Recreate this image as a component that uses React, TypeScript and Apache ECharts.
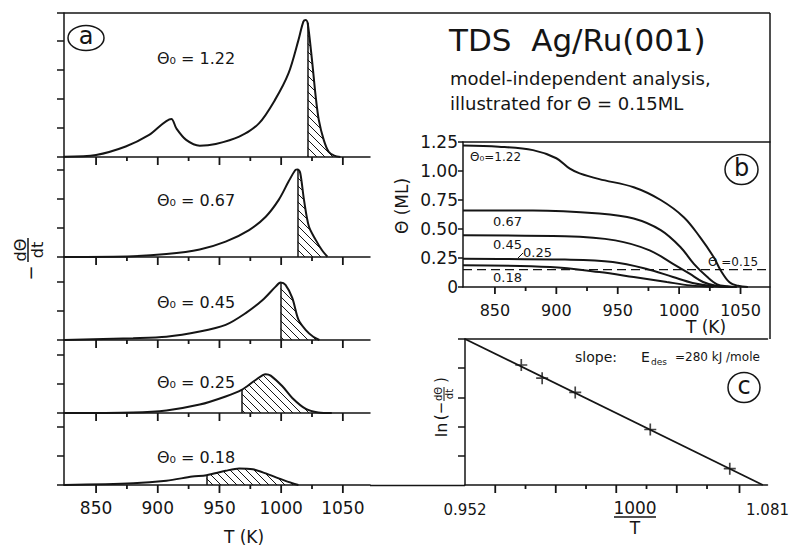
import React, { useEffect, useRef } from "react";
import * as echarts from "echarts";

// ---------- panel (a): TDS spectra, -dΘ/dt (in y-tick units) vs T (K) ----------
const a1T = [824, 850, 874, 893, 911, 915, 923, 934, 947, 966, 982, 995, 1006, 1014, 1018, 1020, 1021.5, 1025, 1028, 1030.5, 1034.5, 1038.5, 1043, 1048];
const a1Y = [0.01, 0.07, 0.36, 0.76, 1.31, 0.99, 0.59, 0.39, 0.45, 0.7, 1.16, 1.97, 2.89, 4.03, 4.67, 4.72, 4.62, 3.34, 2.08, 1.28, 0.59, 0.18, 0.05, 0];
const a2T = [824, 880, 907, 934, 955, 974, 987.5, 998, 1006, 1011.5, 1013.5, 1015.5, 1018.5, 1022.5, 1028, 1033, 1037.5];
const a2Y = [0, 0.03, 0.1, 0.26, 0.53, 0.93, 1.39, 1.97, 2.6, 3.0, 3.02, 2.89, 1.97, 1.05, 0.59, 0.24, 0.01];
const a3T = [824, 880, 907, 934, 955, 971, 985, 995.5, 999.5, 1003.5, 1009, 1014, 1020, 1026, 1031];
const a3Y = [0, 0.06, 0.11, 0.29, 0.52, 0.92, 1.38, 1.84, 1.98, 1.9, 1.45, 0.7, 0.34, 0.11, 0];
const a4T = [824, 880, 907, 934, 955, 968, 979, 987.5, 991.5, 1001, 1009, 1020, 1030, 1041];
const a4Y = [0, 0.02, 0.09, 0.29, 0.57, 0.8, 1.13, 1.34, 1.29, 0.92, 0.52, 0.14, 0.02, 0];
const a5T = [824, 880, 907, 928, 939.5, 955, 966, 977, 987.5, 998, 1009, 1014];
const a5Y = [0, 0.06, 0.15, 0.29, 0.34, 0.49, 0.57, 0.54, 0.4, 0.23, 0.06, 0];
const aHatchStart = [1021.5, 1013.5, 999.5, 968, 939.5];
const aCoverage = ["1.22", "0.67", "0.45", "0.25", "0.18"];
const aTickMajor = [850, 900, 950, 1000, 1050];
const aTickMinor = [875, 925, 975, 1025];

// ---------- panel (b): coverage Θ (ML) vs T (K) ----------
const bT122 = [824, 853, 881, 900, 911, 919, 935, 963, 985, 1004, 1017, 1028, 1034, 1041, 1048, 1056];
const bY122 = [1.22, 1.21, 1.18, 1.11, 1.02, 0.98, 0.93, 0.86, 0.75, 0.6, 0.43, 0.26, 0.14, 0.04, 0.01, 0];
const bT067 = [824, 881, 935, 963, 985, 1001, 1012, 1023, 1031, 1039, 1047];
const bY067 = [0.66, 0.66, 0.633, 0.59, 0.49, 0.345, 0.2, 0.086, 0.023, 0.006, 0];
const bT045 = [824, 907, 948, 976, 995, 1008.5, 1019.5, 1030, 1044];
const bY045 = [0.446, 0.437, 0.402, 0.316, 0.2, 0.115, 0.043, 0.011, 0];
const bT025 = [824, 907, 946, 973, 995, 1011, 1028, 1041];
const bY025 = [0.244, 0.236, 0.216, 0.158, 0.086, 0.035, 0.006, 0];
const bT018 = [824, 895, 935, 963, 990, 1009, 1028];
const bY018 = [0.187, 0.172, 0.129, 0.086, 0.043, 0.014, 0];
const bDashTheta = 0.15;
const bTickMajor = [850, 900, 950, 1000, 1050];
const bTickMinor = [875, 925, 975, 1025];
const bThetaTicks = [0, 0.25, 0.5, 0.75, 1.0, 1.25];

// ---------- panel (c): ln(-dΘ/dt) vs 1000/T ----------
const cInvT = [0.976, 0.9849, 0.999, 1.031, 1.0649];
const cLnRate = [4.11, 3.66, 3.17, 1.9, 0.56];
const cFitX = [0.952, 1.079];
const cFitY = [5.0, 0];
const cTickLabels = [0.952, 1.081];
const cTickMajor = [0.9649, 0.9907, 1.0165, 1.0423, 1.0681];
const cTickMinor = [0.9778, 1.0036, 1.0294, 1.0552];
const cYTicks = [1, 2, 3, 4, 5];

const INK = "#151515";
const F = "'DejaVu Sans', 'Liberation Sans', sans-serif";
const UNIT = 29;

function hatchPattern() {
  const s = 8;
  const cv = document.createElement("canvas");
  cv.width = s;
  cv.height = s;
  const g = cv.getContext("2d")!;
  g.strokeStyle = INK;
  g.lineWidth = 1;
  g.beginPath();
  g.moveTo(0, 0);
  g.lineTo(s, s);
  g.moveTo(-1, s - 1);
  g.lineTo(1, s + 1);
  g.moveTo(s - 1, -1);
  g.lineTo(s + 1, 1);
  g.stroke();
  return { image: cv, repeat: "repeat", imageWidth: s, imageHeight: s };
}

function txt(x: number, y: number, text: string, size: number, align = "left", extra: any = {}) {
  return {
    type: "text",
    x,
    y,
    silent: true,
    style: { text, fontSize: size, fontFamily: F, fill: INK, align, verticalAlign: "middle", ...extra },
  };
}
function ln(x1: number, y1: number, x2: number, y2: number, w = 1.5) {
  return { type: "line", silent: true, shape: { x1, y1, x2, y2 }, style: { stroke: INK, lineWidth: w } };
}
function ell(cx: number, cy: number, rx: number, ry: number) {
  return { type: "ellipse", silent: true, shape: { cx, cy, rx, ry }, style: { fill: "none", stroke: INK, lineWidth: 1.5 } };
}

type TickSpec = {
  xi: number; yi: number; values: number[]; len: number;
  left: number; width: number; bottom: number; min: number; max: number;
};

function buildOption() {
  const pattern = hatchPattern();
  const grids: any[] = [];
  const xAxes: any[] = [];
  const yAxes: any[] = [];
  const series: any[] = [];
  const ticks: TickSpec[] = [];
  const axLine = { show: true, onZero: false, lineStyle: { color: INK, width: 1.5 } };
  const tickStyle = { color: INK, width: 1.5 };
  const SM = 0.3;
  const numFmt = (v: number) => String(v);

  // ---- panel (a) ----
  const aData = [
    [a1T, a1Y],
    [a2T, a2Y],
    [a3T, a3Y],
    [a4T, a4Y],
    [a5T, a5Y],
  ];
  const aLayout = [
    { top: 13, height: 144 },
    { top: 157, height: 100 },
    { top: 257, height: 83 },
    { top: 340, height: 73 },
    { top: 413, height: 72 },
  ];
  aLayout.forEach((L, i) => {
    const gi = grids.length;
    grids.push({ left: 64, top: L.top, width: 306, height: L.height });
    const xi = xAxes.length;
    xAxes.push({
      type: "value", gridIndex: gi, min: 824, max: 1072, position: "bottom",
      splitLine: { show: false }, axisLine: axLine,
      axisTick: { show: false },
      axisLabel: { show: i === 4, customValues: aTickMajor, formatter: numFmt, fontSize: 17, fontFamily: F, color: INK, margin: 14 },
    });
    const ymax = L.height / UNIT;
    const yt: number[] = [];
    for (let k = 0; k <= Math.floor(ymax); k++) yt.push(k);
    if (i === 0) yt.push(ymax);
    const yi = yAxes.length;
    yAxes.push({
      type: "value", gridIndex: gi, min: 0, max: ymax,
      splitLine: { show: false }, axisLine: axLine,
      axisTick: { show: true, length: 7, customValues: yt, lineStyle: tickStyle },
      axisLabel: { show: false },
    });
    const geo = { left: 64, width: 306, bottom: L.top + L.height, min: 824, max: 1072 };
    ticks.push({ xi, yi, values: aTickMajor, len: 8, ...geo });
    ticks.push({ xi, yi, values: aTickMinor, len: 4, ...geo });
    const [T, Y] = aData[i];
    const d = T.map((t, k) => [t, Y[k]]);
    const hs = aHatchStart[i];
    const hk = T.indexOf(hs);
    series.push({
      type: "line", xAxisIndex: xi, yAxisIndex: yi, data: d.slice(hk), smooth: SM, symbol: "none",
      lineStyle: { width: 0, opacity: 0 }, areaStyle: { color: pattern, opacity: 1 }, z: 1, silent: true,
    });
    series.push({
      type: "line", xAxisIndex: xi, yAxisIndex: yi, data: d, smooth: SM, symbol: "none",
      lineStyle: { color: INK, width: 2 }, z: 3, silent: true,
      markLine: {
        silent: true, symbol: ["none", "none"], label: { show: false },
        lineStyle: { color: INK, width: 1.5, type: "solid" },
        data: [[{ coord: [hs, 0] }, { coord: [hs, Y[hk]] }]],
      },
    });
  });

  // ---- panel (b) ----
  const gb = grids.length;
  grids.push({ left: 463, top: 142, width: 307, height: 145 });
  const xb = xAxes.length;
  xAxes.push({
    type: "value", gridIndex: gb, min: 824, max: 1074, position: "bottom",
    splitLine: { show: false }, axisLine: axLine,
    axisTick: { show: false },
    axisLabel: { show: true, customValues: bTickMajor, formatter: numFmt, fontSize: 16, fontFamily: F, color: INK, margin: 15 },
  });
  xAxes.push({
    type: "value", gridIndex: gb, min: 824, max: 1074, position: "top",
    splitLine: { show: false }, axisLine: axLine, axisTick: { show: false }, axisLabel: { show: false },
  });
  const yb = yAxes.length;
  yAxes.push({
    type: "value", gridIndex: gb, min: 0, max: 1.25,
    splitLine: { show: false }, axisLine: axLine,
    axisTick: { show: true, length: 5, customValues: bThetaTicks, lineStyle: tickStyle },
    axisLabel: {
      show: true, customValues: bThetaTicks, fontSize: 17, fontFamily: F, color: INK, margin: 5,
      formatter: (v: number) => (v === 0 ? "0" : v.toFixed(2)),
    },
  });
  const geoB = { left: 463, width: 307, bottom: 287, min: 824, max: 1074 };
  ticks.push({ xi: xb, yi: yb, values: bTickMajor, len: 7, ...geoB });
  ticks.push({ xi: xb, yi: yb, values: bTickMinor, len: 4, ...geoB });
  const bCurves = [
    [bT122, bY122],
    [bT067, bY067],
    [bT045, bY045],
    [bT025, bY025],
    [bT018, bY018],
  ];
  bCurves.forEach(([T, Y]) => {
    series.push({
      type: "line", xAxisIndex: xb, yAxisIndex: yb, data: T.map((t, k) => [t, Y[k]]),
      smooth: 0.35, symbol: "none", lineStyle: { color: INK, width: 2 }, silent: true, z: 3,
    });
  });
  series.push({
    type: "line", xAxisIndex: xb, yAxisIndex: yb, data: [[824, bDashTheta], [1074, bDashTheta]],
    symbol: "none", lineStyle: { color: INK, width: 1.3, type: [9, 5] }, silent: true, z: 2,
  });

  // ---- panel (c) ----
  const gc = grids.length;
  grids.push({ left: 465, top: 339, width: 305, height: 146 });
  const xc = xAxes.length;
  xAxes.push({
    type: "value", gridIndex: gc, min: 0.952, max: 1.081, position: "bottom",
    splitLine: { show: false }, axisLine: axLine,
    axisTick: { show: false },
    axisLabel: {
      show: true, customValues: cTickLabels, fontSize: 15, fontFamily: F, color: INK, margin: 17,
      formatter: (v: number) => v.toFixed(3),
    },
  });
  xAxes.push({
    type: "value", gridIndex: gc, min: 0.952, max: 1.081, position: "top",
    splitLine: { show: false }, axisLine: axLine, axisTick: { show: false }, axisLabel: { show: false },
  });
  const yc = yAxes.length;
  yAxes.push({
    type: "value", gridIndex: gc, min: 0, max: 5,
    splitLine: { show: false }, axisLine: axLine,
    axisTick: { show: true, length: 7, customValues: cYTicks, lineStyle: tickStyle },
    axisLabel: { show: false },
  });
  const geoC = { left: 465, width: 305, bottom: 485, min: 0.952, max: 1.081 };
  ticks.push({ xi: xc, yi: yc, values: cTickMajor, len: 8, ...geoC });
  ticks.push({ xi: xc, yi: yc, values: cTickMinor, len: 4, ...geoC });
  series.push({
    type: "line", xAxisIndex: xc, yAxisIndex: yc, data: cFitX.map((x, k) => [x, cFitY[k]]),
    symbol: "none", lineStyle: { color: INK, width: 1.8 }, silent: true, z: 2,
  });
  series.push({
    type: "scatter", xAxisIndex: xc, yAxisIndex: yc, data: cInvT.map((x, k) => [x, cLnRate[k]]),
    symbol: "path://M-0.7,-5H0.7V-0.7H5V0.7H0.7V5H-0.7V0.7H-5V-0.7H-0.7Z", symbolSize: 12,
    itemStyle: { color: INK }, silent: true, z: 3,
  });

  // ---- decorations and texts ----
  const aLabelY = [58, 200, 302, 382, 457];
  const graphic: any[] = [
    ln(64, 13, 770, 13),
    ln(770, 13, 770, 339),
    ln(370, 485.5, 465, 485.5),
    txt(449, 40, "TDS  Ag/Ru(001)", 31),
    txt(450, 78, "model-independent analysis,", 18),
    txt(450, 103, "illustrated for Θ = 0.15ML", 18),
    ell(86, 38, 18, 12.5),
    txt(86, 36, "a", 24, "center"),
    ...aCoverage.map((c, i) => txt(157, aLabelY[i], "Θ₀ = " + c, 16)),
    txt(244, 537, "T (K)", 17, "center"),
    {
      type: "group", x: 28, y: 254, rotation: Math.PI / 2, silent: true,
      children: [
        txt(-19, 2, "−", 18, "center"),
        txt(4, -8, "dΘ", 16, "center"),
        ln(-8, 0, 16, 0, 1.5),
        txt(4, 9, "dt", 16, "center"),
      ],
    },
    ell(741.5, 169.5, 16.5, 15),
    txt(741.5, 168, "b", 24, "center"),
    txt(470, 157, "Θ₀=1.22", 12),
    txt(493, 221, "0.67", 13),
    txt(493, 244, "0.45", 13),
    ln(518, 258, 523, 253, 1),
    txt(523, 252, "0.25", 13),
    txt(493, 277, "0.18", 13),
    txt(708, 262, "Θ =0.15", 12),
    txt(706, 327, "T (K)", 17, "center"),
    {
      type: "group", x: 402, y: 206, rotation: Math.PI / 2, silent: true,
      children: [txt(0, 0, "Θ (ML)", 17, "center")],
    },
    ell(744, 387.5, 16, 15),
    txt(744, 386, "c", 24, "center"),
    txt(575, 357, "slope:", 14),
    txt(641, 357, "E", 14),
    txt(651, 362, "des", 9),
    txt(675, 357, "=280 kJ /mole", 12),
    txt(635, 508, "1000", 17, "center"),
    ln(614, 517, 656, 517, 1.5),
    txt(635, 528, "T", 17, "center"),
    {
      type: "group", x: 444, y: 405, rotation: Math.PI / 2, silent: true,
      children: [
        txt(-25, -3, "ln", 16, "center"),
        txt(-6, -3, "(−", 15, "center"),
        txt(11, -6, "dΘ", 10, "center"),
        ln(4, 0, 18, 0, 1),
        txt(11, 5, "dt", 10, "center"),
        txt(25, -3, ")", 15, "center"),
      ],
    },
  ];

  return {
    option: {
      animation: false,
      backgroundColor: "#ffffff",
      grid: grids,
      xAxis: xAxes,
      yAxis: yAxes,
      series,
    },
    graphic,
    ticks,
  };
}

export default function App() {
  const ref = useRef<HTMLDivElement>(null);
  useEffect(() => {
    document.body.style.margin = "0";
    const chart = echarts.init(ref.current!, null, { renderer: "svg" });
    const { option, graphic, ticks } = buildOption();
    chart.setOption(option as any);
    // x-axis ticks, placed through each axis's own scale (checked against the grid box)
    const tickMarks: any[] = [];
    ticks.forEach((t) => {
      let y = Number(chart.convertToPixel({ yAxisIndex: t.yi } as any, 0) as any);
      if (!isFinite(y) || Math.abs(y - t.bottom) > 2) y = t.bottom;
      t.values.forEach((v) => {
        const expected = t.left + ((v - t.min) / (t.max - t.min)) * t.width;
        let x = Number(chart.convertToPixel({ xAxisIndex: t.xi } as any, v) as any);
        if (!isFinite(x) || Math.abs(x - expected) > 2) x = expected;
        tickMarks.push({
          type: "rect", silent: true, z: 100,
          shape: { x: x - 0.9, y: y, width: 1.8, height: t.len },
          style: { fill: INK, stroke: "none" },
        });
      });
    });
    chart.setOption({ graphic: [...graphic, ...tickMarks] } as any);
    return () => chart.dispose();
  }, []);
  return <div ref={ref} style={{ width: 792, height: 548 }} />;
}
